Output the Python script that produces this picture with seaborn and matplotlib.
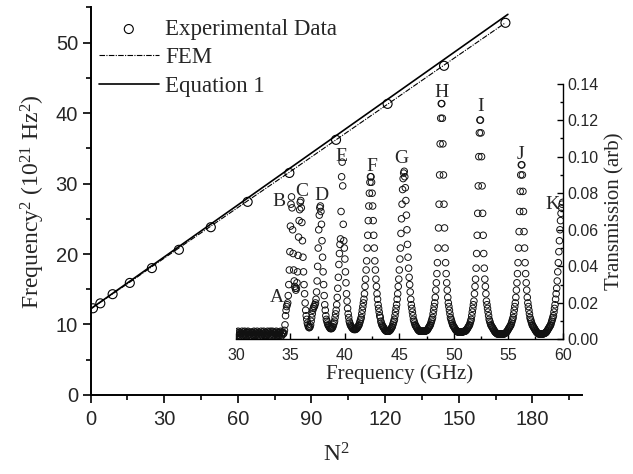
import numpy as np
import pandas as pd
import seaborn as sns
from matplotlib import pyplot as plt
from matplotlib.ticker import MultipleLocator

# main panel: frequency^2 against N^2
n_sq = [1, 4, 9, 16, 25, 36, 49, 64, 81, 100, 121, 144, 169]
freq_sq_exp = [12.3, 13.0, 14.3, 15.9, 18.0, 20.6, 23.8, 27.4, 31.5, 36.2, 41.3, 46.7, 52.8]
fem_n_sq = [0, 1, 4, 9, 16, 25, 36, 49, 64, 81, 100, 121, 144, 169]
fem_freq_sq = [12.2, 12.45, 13.15, 14.35, 16.0, 18.2, 20.85, 23.95, 27.55, 31.6, 36.2, 41.25, 46.8, 52.8]
eq1_n_sq = [0, 170]
eq1_freq_sq = [12.2, 54.0]

# inset: transmission spectrum, 0.05 GHz steps, one list per stretch
floor_trans = [
    0.003, 0.004, 0.002, 0.0035, 0.0045, 0.0025, 0.002, 0.004, 0.003, 0.0015,
    0.0035, 0.0045, 0.0025, 0.002, 0.004, 0.003, 0.0045, 0.002, 0.003, 0.004,
    0.002, 0.0035, 0.0045, 0.004, 0.0025, 0.0015, 0.003, 0.004, 0.002, 0.0035,
    0.004, 0.0025, 0.002, 0.0045, 0.003, 0.004, 0.0025, 0.002, 0.0035, 0.0045,
    0.003, 0.002, 0.004, 0.0035, 0.0015, 0.003, 0.0045, 0.0025, 0.002, 0.004,
    0.003, 0.0045, 0.0025, 0.002, 0.004, 0.0035, 0.0025, 0.002, 0.0045, 0.003,
    0.004, 0.002, 0.0035, 0.0045, 0.0025, 0.0015, 0.003, 0.0045, 0.004, 0.0025,
    0.002, 0.0035, 0.004, 0.003, 0.0045, 0.002, 0.003, 0.004, 0.0025, 0.002,
    0.0035, 0.004, 0.0045, 0.0025, 0.002, 0.0035, 0.004, 0.003, 0.0035,
]
abc_trans = [
    0.005, 0.008, 0.013, 0.016, 0.018, 0.019, 0.020, 0.024, 0.030, 0.038,
    0.048, 0.062, 0.074, 0.078, 0.072, 0.060, 0.047, 0.038, 0.032, 0.029,
    0.028, 0.027, 0.028, 0.031, 0.037, 0.046, 0.056, 0.065, 0.071, 0.075,
    0.076, 0.072, 0.064, 0.054, 0.045, 0.037, 0.030, 0.025, 0.020, 0.016,
    0.013, 0.011, 0.009, 0.008, 0.007, 0.0065, 0.0065, 0.007, 0.008, 0.010,
    0.012,
]
d_trans = [
    0.014, 0.016, 0.017, 0.018, 0.018, 0.019, 0.020, 0.022, 0.026, 0.032,
    0.040, 0.050, 0.060, 0.068, 0.072, 0.073, 0.070, 0.063, 0.054, 0.045,
    0.037, 0.030, 0.024, 0.019, 0.016, 0.013, 0.011, 0.010, 0.009, 0.008,
    0.0075, 0.007, 0.0065, 0.006, 0.006, 0.006, 0.006, 0.0065, 0.007, 0.008,
]
e_trans = [
    0.009, 0.010, 0.012, 0.014, 0.016, 0.019, 0.023, 0.028, 0.034, 0.041,
    0.047, 0.052, 0.055, 0.070, 0.089, 0.097, 0.084, 0.063, 0.054, 0.050,
    0.044, 0.037, 0.031, 0.025, 0.021, 0.017, 0.014, 0.012, 0.010, 0.009,
    0.008, 0.0075, 0.007, 0.0065, 0.006, 0.006, 0.0055, 0.0055, 0.0055, 0.0055,
]
f_trans = [
    0.0055, 0.006, 0.006, 0.0065, 0.007, 0.0075, 0.008, 0.009, 0.010, 0.011,
    0.012, 0.014, 0.016, 0.018, 0.020, 0.022, 0.025, 0.029, 0.033, 0.038,
    0.043, 0.050, 0.057, 0.065, 0.073, 0.080, 0.086, 0.089, 0.089, 0.086,
    0.080, 0.073, 0.065, 0.057, 0.050, 0.043, 0.038, 0.033, 0.029, 0.025,
    0.022, 0.019, 0.017, 0.015, 0.013, 0.012, 0.010, 0.009, 0.008, 0.0075,
    0.007, 0.0065, 0.006, 0.0055, 0.005, 0.005, 0.0045, 0.0045, 0.0045, 0.0045,
]
g_trans = [
    0.0045, 0.0045, 0.005, 0.005, 0.0055, 0.006, 0.0065, 0.007, 0.008, 0.009,
    0.010, 0.011, 0.013, 0.015, 0.017, 0.019, 0.022, 0.025, 0.029, 0.033,
    0.038, 0.044, 0.050, 0.058, 0.066, 0.074, 0.082, 0.088, 0.091, 0.092,
    0.089, 0.083, 0.076, 0.068, 0.060, 0.052, 0.045, 0.039, 0.034, 0.030,
    0.026, 0.022, 0.019, 0.017, 0.015, 0.013, 0.011, 0.010, 0.009, 0.008,
    0.0075, 0.007, 0.0065, 0.006, 0.0055, 0.005, 0.005, 0.0045, 0.0045, 0.0045,
]
h_trans = [
    0.0045, 0.0045, 0.0045, 0.0045, 0.0045, 0.0045, 0.0045, 0.0045, 0.0046, 0.0048,
    0.005, 0.005, 0.0055, 0.006, 0.0065, 0.007, 0.0075, 0.008, 0.009, 0.010,
    0.011, 0.012, 0.014, 0.016, 0.018, 0.020, 0.023, 0.027, 0.031, 0.036,
    0.042, 0.050, 0.061, 0.074, 0.090, 0.107, 0.121, 0.129, 0.129, 0.121,
    0.107, 0.090, 0.074, 0.061, 0.050, 0.042, 0.036, 0.031, 0.027, 0.023,
    0.020, 0.018, 0.016, 0.014, 0.012, 0.011, 0.010, 0.009, 0.008, 0.0075,
    0.007, 0.0065, 0.006, 0.0055, 0.005, 0.0048, 0.0045, 0.0043, 0.004, 0.004,
    0.004, 0.004, 0.004, 0.004, 0.004, 0.004, 0.0042, 0.0042, 0.0043, 0.0045,
]
i_trans = [
    0.0045, 0.0045, 0.005, 0.005, 0.0055, 0.006, 0.0065, 0.007, 0.0075, 0.008,
    0.009, 0.010, 0.011, 0.013, 0.015, 0.017, 0.019, 0.021, 0.025, 0.029,
    0.033, 0.039, 0.047, 0.057, 0.069, 0.084, 0.100, 0.113, 0.120, 0.120,
    0.113, 0.100, 0.084, 0.069, 0.057, 0.047, 0.039, 0.033, 0.029, 0.025,
    0.021, 0.019, 0.017, 0.015, 0.013, 0.011, 0.010, 0.009, 0.008, 0.0075,
    0.007, 0.0065, 0.006, 0.0055, 0.005, 0.0045, 0.004, 0.0038, 0.0035, 0.0033,
]
j_trans = [
    0.003, 0.003, 0.003, 0.003, 0.003, 0.003, 0.003, 0.003, 0.003, 0.003,
    0.003, 0.003, 0.003, 0.0032, 0.0033, 0.0035, 0.0038, 0.004, 0.0045, 0.005,
    0.0055, 0.006, 0.0065, 0.007, 0.0075, 0.008, 0.009, 0.010, 0.011, 0.012,
    0.014, 0.016, 0.018, 0.020, 0.023, 0.027, 0.031, 0.036, 0.042, 0.050,
    0.059, 0.070, 0.081, 0.090, 0.0955, 0.0955, 0.090, 0.081, 0.070, 0.059,
    0.050, 0.042, 0.036, 0.031, 0.027, 0.023, 0.020, 0.018, 0.016, 0.014,
    0.012, 0.011, 0.010, 0.009, 0.008, 0.0075, 0.007, 0.0065, 0.006, 0.0055,
    0.005, 0.0045, 0.004, 0.0038, 0.0035, 0.0033, 0.003, 0.003, 0.003, 0.003,
]
k_trans = [
    0.003, 0.003, 0.003, 0.003, 0.003, 0.0032, 0.0033, 0.0034, 0.0035, 0.0038,
    0.004, 0.0045, 0.005, 0.0055, 0.006, 0.0065, 0.007, 0.0075, 0.008, 0.009,
    0.010, 0.011, 0.012, 0.013, 0.015, 0.017, 0.019, 0.022, 0.025, 0.028,
    0.032, 0.037, 0.042, 0.048, 0.054, 0.060, 0.065, 0.069, 0.072, 0.074,
    0.075,
]
segment_start_ghz = [30.0, 34.45, 37.0, 39.0, 41.0, 44.0, 47.0, 51.0, 54.0, 58.0]
segments = [floor_trans, abc_trans, d_trans, e_trans, f_trans, g_trans,
            h_trans, i_trans, j_trans, k_trans]

peak_names = ['A', 'B', 'C', 'D', 'E', 'F', 'G', 'H', 'I', 'J', 'K']
peak_label_ghz = [33.77, 33.98, 36.04, 37.88, 39.72, 42.48, 45.18, 48.86, 52.45, 56.13, 59.07]
peak_label_trans = [0.0227, 0.0755, 0.081, 0.079, 0.100, 0.0947, 0.099, 0.135, 0.1276, 0.101, 0.0737]

spec = pd.DataFrame({
    'freq': np.concatenate([s + 0.05 * np.arange(len(v)) for s, v in zip(segment_start_ghz, segments)]),
    'trans': np.concatenate(segments),
})

sns.set_style('ticks')
plt.rcParams['font.family'] = ['Liberation Sans', 'DejaVu Sans']
plt.rcParams['mathtext.fontset'] = 'custom'
plt.rcParams['mathtext.rm'] = 'Liberation Serif'
plt.rcParams['mathtext.it'] = 'Liberation Serif:italic'
SERIF = ['Liberation Serif', 'DejaVu Serif']

fig = plt.figure(figsize=(6.33, 4.74), dpi=100)
ax = fig.add_axes([0.143, 0.1667, 0.7757, 0.8179])

sns.scatterplot(x=n_sq, y=freq_sq_exp, ax=ax, marker='o', s=42, color='black',
                facecolor='none', edgecolor='black', linewidth=0.8, label='Experimental Data', zorder=3)
sns.lineplot(x=fem_n_sq, y=fem_freq_sq, ax=ax, color='black', linewidth=0.8,
             linestyle=(0, (5, 1.2, 1, 1.2)), label='FEM')
sns.lineplot(x=eq1_n_sq, y=eq1_freq_sq, ax=ax, color='black', linewidth=1.2, label='Equation 1')

ax.set_xlim(0, 200)
ax.set_ylim(0, 55)
ax.xaxis.set_major_locator(MultipleLocator(30))
ax.xaxis.set_minor_locator(MultipleLocator(15))
ax.yaxis.set_major_locator(MultipleLocator(10))
ax.yaxis.set_minor_locator(MultipleLocator(5))
ax.tick_params(which='major', direction='out', length=6, width=1.2, labelsize=14.5, color='black')
ax.tick_params(which='minor', direction='out', length=3.5, width=1.2, color='black')
ax.tick_params(axis='x', which='major', pad=5)
ax.tick_params(axis='y', which='major', pad=3)
for side in ['top', 'right']:
    ax.spines[side].set_visible(False)
for side in ['left', 'bottom']:
    ax.spines[side].set_linewidth(1.4)
    ax.spines[side].set_color('black')
ax.set_xlabel('N$^2$', family=SERIF, fontsize=17, labelpad=10)
ax.set_ylabel('Frequency$^2$ (10$^{21}$ Hz$^2$)', family=SERIF, fontsize=17, labelpad=6)

ax.legend(loc='upper left', bbox_to_anchor=(99 / 633, 1 - 19 / 474), bbox_transform=fig.transFigure,
          frameon=False, prop={'family': SERIF, 'size': 16.5}, handlelength=2.6,
          handletextpad=0.3, labelspacing=0.32, borderpad=0, borderaxespad=0)

# inset spectrum
axi = fig.add_axes([0.3728, 0.2838, 0.5161, 0.540])
axi.patch.set_alpha(0)
sns.scatterplot(data=spec, x='freq', y='trans', ax=axi, marker='o', s=22, color='#111111',
                facecolor='none', edgecolor='#111111', linewidth=0.7)
axi.set_xlim(30, 60)
axi.set_ylim(0, 0.14)
axi.xaxis.set_major_locator(MultipleLocator(5))
axi.xaxis.set_minor_locator(MultipleLocator(2.5))
axi.yaxis.set_major_locator(MultipleLocator(0.02))
axi.yaxis.set_minor_locator(MultipleLocator(0.01))
axi.yaxis.tick_right()
axi.yaxis.set_label_position('right')
axi.yaxis.set_major_formatter(plt.FormatStrFormatter('%.2f'))
axi.tick_params(which='major', direction='in', length=4, width=1, labelsize=11.5, color='black')
axi.tick_params(which='minor', direction='in', length=2.5, width=1, color='black')
axi.tick_params(axis='x', pad=6)
for side in ['top', 'left']:
    axi.spines[side].set_visible(False)
for side in ['bottom', 'right']:
    axi.spines[side].set_linewidth(1.0)
    axi.spines[side].set_color('black')
axi.set_xlabel('Frequency (GHz)', family=SERIF, fontsize=15, labelpad=1)
axi.set_ylabel('Transmission (arb)', family=SERIF, fontsize=15, labelpad=5)

for name, fx, fy in zip(peak_names, peak_label_ghz, peak_label_trans):
    axi.text(fx, fy, name, family=SERIF, fontsize=14, ha='center', va='center')

plt.savefig('out.png', dpi=100)
